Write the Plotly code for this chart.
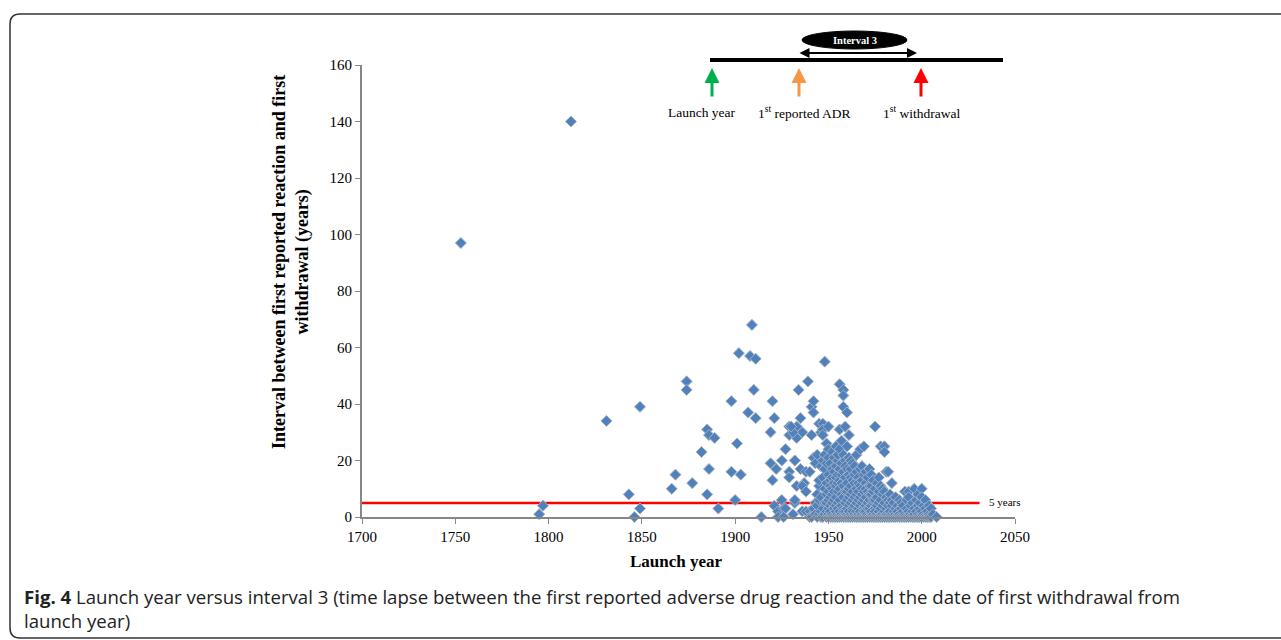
import plotly.graph_objects as go

# ---------------- data ----------------
sparse_years = [1753, 1812, 1795, 1797, 1831, 1849, 1843, 1849, 1846,
                1868, 1866, 1874, 1874, 1877, 1882, 1885, 1886, 1889, 1886, 1885, 1891,
                1898, 1901, 1898, 1903, 1900, 1909, 1902, 1908, 1911, 1910, 1907, 1911, 1914,
                1920, 1921, 1919, 1929, 1933, 1929, 1933, 1927, 1919, 1925, 1932, 1922,
                1929, 1929, 1920, 1933, 1925, 1921, 1923, 1926, 1932, 1934, 1935, 1936, 1937,
                1931, 1936, 1935, 1932, 1936, 1923, 1927, 1926, 1931, 1930, 1932]
sparse_intervals = [97, 140, 1, 4, 34, 39, 8, 3, 0,
                    15, 10, 48, 45, 12, 23, 31, 29, 28, 17, 8, 3,
                    41, 26, 16, 15, 6, 68, 58, 57, 56, 45, 37, 35, 0,
                    41, 35, 30, 32, 32, 29, 28, 24, 19, 20, 20, 17,
                    16, 14, 13, 11, 6, 4, 2, 3, 5, 45, 35, 30, 12,
                    30, 11, 17, 6, 2, 0, 3, 0, 1, 32, 20]

dense_years = (
    [1938] * 3 + [1939] * 1 + [1940] * 3 + [1941] * 3 + [1942] * 4 + [1943] * 3 +
    [1944] * 4 + [1945] * 5 + [1946] * 5 + [1947] * 7 + [1948] * 6 + [1949] * 7 +
    [1950] * 9 + [1951] * 7 + [1952] * 8 + [1953] * 7 + [1954] * 8 + [1955] * 9 +
    [1956] * 9 + [1957] * 8 + [1958] * 10 + [1959] * 8 + [1960] * 9 + [1961] * 8 +
    [1962] * 8 + [1963] * 7 + [1964] * 7 + [1965] * 7 + [1966] * 7 + [1967] * 7 +
    [1968] * 7 + [1969] * 7 + [1970] * 7 + [1971] * 6 + [1972] * 6 + [1973] * 6 +
    [1974] * 6 + [1975] * 6 + [1976] * 5 + [1977] * 5 + [1978] * 5 + [1979] * 5 +
    [1980] * 6 + [1981] * 5 + [1982] * 5 + [1983] * 4 + [1984] * 5 + [1985] * 3 +
    [1986] * 4 + [1987] * 3 + [1988] * 3 + [1989] * 3 + [1990] * 3 + [1991] * 3 +
    [1992] * 3 + [1993] * 4 + [1994] * 3 + [1995] * 3 + [1996] * 4 + [1997] * 3 +
    [1998] * 4 + [1999] * 3 + [2000] * 4 + [2001] * 3 + [2002] * 3 + [2003] * 2 +
    [2004] * 3 + [2005] * 2 + [2006] * 1 + [2008] * 1
)
dense_intervals = [
    16, 9, 2,
    48,
    16, 2, 0,
    39, 29, 0,
    41, 37, 21, 3,
    19, 5, 1,
    22, 0, 4, 8,
    33, 11, 6, 1, 13,
    30, 2, 18, 0, 7,
    33, 31, 29, 20, 14, 3, 0,
    55, 22, 10, 5, 1, 17,
    26, 5, 12, 8, 0, 2, 19,
    32, 24, 15, 9, 6, 3, 1, 0, 21,
    19, 13, 7, 4, 2, 0, 11,
    23, 17, 10, 5, 1, 0, 14, 8,
    21, 16, 12, 6, 3, 0, 9,
    25, 18, 11, 7, 4, 2, 0, 14,
    20, 15, 9, 5, 3, 1, 0, 12, 22,
    47, 31, 24, 17, 10, 6, 2, 0, 13,
    27, 19, 12, 8, 4, 1, 0, 15,
    45, 43, 39, 22, 16, 11, 7, 3, 0, 2,
    32, 20, 14, 9, 5, 2, 0, 18,
    37, 25, 17, 12, 6, 3, 1, 0, 9,
    29, 21, 15, 10, 4, 2, 0, 7,
    20, 14, 8, 5, 1, 0, 11, 17,
    19, 13, 9, 6, 3, 0, 2,
    18, 12, 7, 4, 1, 0, 15,
    22, 16, 10, 5, 2, 0, 8,
    14, 9, 6, 3, 1, 0, 12,
    24, 17, 11, 7, 4, 2, 0,
    18, 13, 8, 5, 1, 0, 10,
    25, 15, 9, 6, 3, 0, 2,
    12, 7, 4, 2, 0, 16, 10,
    14, 9, 5, 1, 0, 3,
    17, 11, 6, 3, 0, 8,
    15, 8, 4, 2, 0, 11,
    13, 9, 5, 1, 0, 6,
    32, 10, 6, 3, 0, 2,
    12, 7, 4, 1, 0,
    9, 5, 2, 0, 14,
    25, 11, 6, 3, 0,
    8, 4, 1, 0, 10,
    25, 23, 9, 5, 2, 0,
    16, 7, 3, 0, 1,
    16, 6, 4, 1, 0,
    8, 5, 2, 0,
    12, 4, 1, 0, 6,
    5, 2, 0,
    7, 3, 1, 0,
    4, 2, 0,
    6, 1, 0,
    3, 0, 5,
    2, 0, 4,
    9, 1, 0,
    3, 0, 6,
    9, 7, 2, 0,
    4, 1, 0,
    5, 2, 0,
    10, 3, 0, 1,
    6, 2, 0,
    8, 4, 1, 0,
    3, 0, 5,
    10, 7, 2, 0,
    4, 1, 0,
    6, 3, 0,
    2, 0,
    1, 4, 0,
    3, 0,
    1,
    0,
]

launch_years = sparse_years + dense_years
intervals = sparse_intervals + dense_intervals

threshold_years = [1700, 2031]
threshold_values = [5, 5]

x_ticks = [1700, 1750, 1800, 1850, 1900, 1950, 2000, 2050]
y_ticks = [0, 20, 40, 60, 80, 100, 120, 140, 160]

# ---------------- layout helpers ----------------
W, H = 1281, 640
L, R, T, B = 362, 1015, 65, 517  # plot area in pixels
SERIF = "Liberation Serif, Times New Roman, serif"


def px(x):
    return (x - L) / (R - L)


def py(y):
    return (B - y) / (B - T)


fig = go.Figure()

fig.add_trace(go.Scatter(
    x=threshold_years, y=threshold_values, mode="lines",
    line=dict(color="#FF0000", width=2.5), hoverinfo="skip", showlegend=False,
    cliponaxis=False,
))

fig.add_trace(go.Scatter(
    x=launch_years, y=intervals, mode="markers",
    marker=dict(symbol="diamond", size=8.5, color="#4F81BD",
                line=dict(color="#A9B1BF", width=1)),
    showlegend=False, cliponaxis=False,
))

axis_common = dict(
    showgrid=False, zeroline=False, showline=True, linecolor="#868686",
    linewidth=2, ticks="outside", ticklen=5, tickcolor="#868686", tickwidth=1,
    tickfont=dict(family=SERIF, size=15, color="#000000"),
)

fig.update_layout(
    width=W, height=H,
    margin=dict(l=L, r=W - R, t=T, b=H - B),
    paper_bgcolor="white", plot_bgcolor="white",
    xaxis=dict(range=[1700, 2050], tickvals=x_ticks, **axis_common),
    yaxis=dict(range=[0, 160], tickvals=y_ticks, **axis_common),
    font=dict(family=SERIF, color="#000000"),
)

annotations = []
# axis titles
annotations.append(dict(
    text="<b>Launch year</b>", x=px(676), y=py(561), xref="paper", yref="paper",
    showarrow=False, font=dict(family=SERIF, size=17), xanchor="center", yanchor="middle"))
annotations.append(dict(
    text="<b>Interval between first reported reaction and first<br>withdrawal (years)</b>",
    x=px(291), y=py(262), xref="paper", yref="paper", textangle=-90,
    showarrow=False, font=dict(family=SERIF, size=18), xanchor="center", yanchor="middle"))
# threshold label
annotations.append(dict(
    text="5 years", x=px(987), y=py(502), xref="paper", yref="paper",
    showarrow=False, font=dict(family=SERIF, size=11), xanchor="left", yanchor="middle"))

# schematic legend
for xpix, col in [(712, "#00B050"), (799, "#F79646"), (921, "#FF0000")]:
    annotations.append(dict(
        x=px(xpix), y=py(68), xref="paper", yref="paper", text="",
        showarrow=True, arrowhead=2, arrowsize=1, arrowwidth=3, arrowcolor=col,
        ax=0, ay=30))
annotations.append(dict(
    x=px(917), y=py(53), ax=-119, ay=0, xref="paper", yref="paper",
    text="", showarrow=True, arrowhead=2,
    startarrowhead=2, arrowside="end+start", arrowsize=1, arrowwidth=2,
    arrowcolor="#000000"))
annotations.append(dict(
    text="<b>Interval 3</b>", x=px(855), y=py(40), xref="paper", yref="paper",
    xanchor="center", yanchor="middle", bgcolor="black", borderpad=1,
    showarrow=False, font=dict(family=SERIF, size=10.5, color="white")))
for xpix, txt in [(702, "Launch year"), (804, "1<sup>st</sup> reported ADR"),
                  (921, "1<sup>st</sup> withdrawal")]:
    annotations.append(dict(
        text=txt, x=px(xpix), y=py(112), xref="paper", yref="paper",
        showarrow=False, font=dict(family=SERIF, size=13.5), xanchor="center",
        yanchor="middle"))

# caption
annotations.append(dict(
    text="<b>Fig. 4</b> Launch year versus interval 3 (time lapse between the first "
         "reported adverse drug reaction and the date of first withdrawal from<br>launch year)",
    x=px(22), y=py(582), xref="paper", yref="paper", showarrow=False,
    xanchor="left", yanchor="top", align="left",
    font=dict(family="Open Sans, Noto Sans, sans-serif", size=18.6, color="#222222")))

fig.update_layout(annotations=annotations)

shapes = [
    dict(type="line", xref="paper", yref="paper", x0=px(710), x1=px(1003),
         y0=py(60), y1=py(60), line=dict(color="black", width=4)),
    dict(type="circle", xref="paper", yref="paper", x0=px(802), x1=px(907),
         y0=py(49), y1=py(31), fillcolor="black", line=dict(color="black", width=1),
         layer="below"),
    dict(type="path", xref="paper", yref="paper",
         path=(f"M {px(1300)},{py(14)} L {px(20)},{py(14)} "
               f"Q {px(10)},{py(14)} {px(10)},{py(24)} "
               f"L {px(10)},{py(628)} Q {px(10)},{py(638)} {px(20)},{py(638)} "
               f"L {px(1300)},{py(638)}"),
         line=dict(color="#333333", width=1.5)),
]
fig.update_layout(shapes=shapes)

fig.write_html("out.html")
